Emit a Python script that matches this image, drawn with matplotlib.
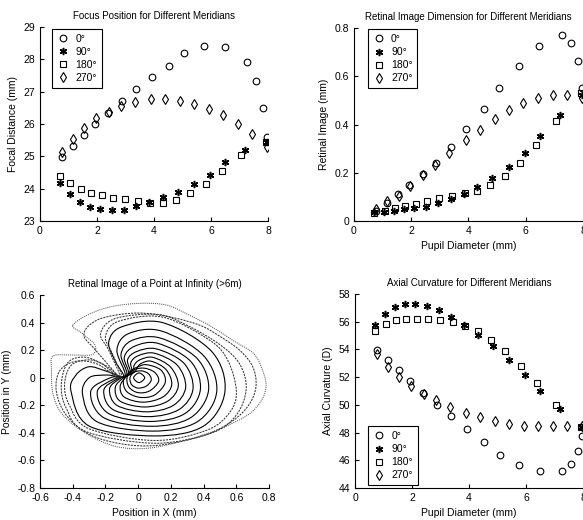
import numpy as np
import matplotlib
matplotlib.use('Agg')
from matplotlib import pyplot as plt
from matplotlib import font_manager
from matplotlib.path import Path
from matplotlib.patches import PathPatch

names = {f.name for f in font_manager.fontManager.ttflist}
fam = 'Liberation Sans Narrow' if 'Liberation Sans Narrow' in names else 'Liberation Sans'
plt.rcParams['font.family'] = [fam, 'DejaVu Sans']

# pupil diameters (mm) per meridian
x0 = [0.76, 1.15, 1.53, 1.94, 2.40, 2.88, 3.38, 3.93, 4.53, 5.07, 5.76, 6.48, 7.25, 7.58, 7.83, 7.97]
x90 = [0.71, 1.05, 1.39, 1.74, 2.11, 2.51, 2.95, 3.38, 3.83, 4.31, 4.84, 5.40, 5.96, 6.49, 7.19, 7.96]
x180 = [0.71, 1.07, 1.43, 1.79, 2.16, 2.57, 2.98, 3.43, 3.87, 4.30, 4.77, 5.26, 5.81, 6.37, 7.06, 7.94]
x270 = [0.77, 1.17, 1.56, 1.96, 2.41, 2.84, 3.32, 3.90, 4.40, 4.91, 5.41, 5.92, 6.43, 6.94, 7.45, 7.95]

# focal distance (mm)
focus0 = [24.99, 25.33, 25.66, 25.99, 26.35, 26.71, 27.07, 27.44, 27.81, 28.19, 28.42, 28.37, 27.93, 27.33, 26.51, 25.61]
focus90 = [24.19, 23.83, 23.58, 23.42, 23.36, 23.35, 23.35, 23.46, 23.59, 23.73, 23.90, 24.13, 24.42, 24.81, 25.19, 25.45]
focus180 = [24.40, 24.17, 23.98, 23.88, 23.81, 23.72, 23.67, 23.63, 23.55, 23.57, 23.66, 23.87, 24.13, 24.55, 25.03, 25.45]
focus270 = [25.14, 25.53, 25.89, 26.18, 26.38, 26.56, 26.69, 26.77, 26.77, 26.70, 26.61, 26.48, 26.28, 26.01, 25.68, 25.30]

# retinal image dimension (mm)
img0 = [0.043, 0.076, 0.110, 0.149, 0.193, 0.241, 0.308, 0.381, 0.463, 0.552, 0.643, 0.724, 0.771, 0.738, 0.662, 0.553]
img90 = [0.037, 0.037, 0.041, 0.050, 0.055, 0.059, 0.074, 0.091, 0.112, 0.142, 0.177, 0.225, 0.280, 0.352, 0.439, 0.524]
img180 = [0.032, 0.041, 0.052, 0.062, 0.070, 0.083, 0.094, 0.103, 0.117, 0.124, 0.149, 0.186, 0.239, 0.317, 0.415, 0.531]
img270 = [0.048, 0.084, 0.105, 0.145, 0.190, 0.234, 0.280, 0.335, 0.379, 0.423, 0.459, 0.490, 0.510, 0.524, 0.524, 0.510]

# axial curvature (D)
curv0 = [53.98, 53.26, 52.49, 51.75, 50.86, 50.01, 49.17, 48.26, 47.30, 46.41, 45.64, 45.20, 45.20, 45.76, 46.69, 47.78]
curv90 = [55.79, 56.56, 57.06, 57.30, 57.30, 57.11, 56.82, 56.34, 55.79, 55.07, 54.22, 53.26, 52.18, 51.02, 49.72, 48.40]
curv180 = [55.35, 55.83, 56.10, 56.22, 56.22, 56.22, 56.15, 55.98, 55.71, 55.35, 54.70, 53.91, 52.83, 51.58, 50.01, 48.40]
curv270 = [53.69, 52.73, 52.01, 51.34, 50.78, 50.33, 49.82, 49.41, 49.10, 48.86, 48.64, 48.50, 48.45, 48.45, 48.45, 48.45]

labels = ['0°', '90°', '180°', '270°']

# retinal image rings (x, y in mm)
solid_rings = [
    ([0.04, 0.005, -0.028, 0.005],
     [0.0, 0.035, 0.0, -0.035]),
    ([0.08, 0.062, 0.02, -0.025, -0.05, -0.04, 0.0, 0.05],
     [-0.015, 0.03, 0.05, 0.04, 0.0, -0.05, -0.075, -0.06]),
    ([0.125, 0.1, 0.035, -0.03, -0.068, -0.055, 0.0, 0.07],
     [-0.025, 0.04, 0.07, 0.055, 0.0, -0.07, -0.108, -0.095]),
    ([0.165, 0.14, 0.05, -0.01, -0.05, -0.09, -0.07, 0.01, 0.1],
     [-0.035, 0.055, 0.095, 0.075, 0.045, -0.02, -0.1, -0.142, -0.125]),
    ([-0.02, -0.07, -0.11, -0.085, 0.03, 0.15, 0.205, 0.17, 0.08, 0.02, -0.005],
     [0.045, 0.01, -0.06, -0.14, -0.177, -0.14, -0.05, 0.06, 0.12, 0.105, 0.075]),
    ([-0.03, -0.09, -0.14, -0.11, 0.04, 0.18, 0.245, 0.2, 0.09, 0.01, -0.025],
     [0.04, 0.0, -0.07, -0.17, -0.212, -0.17, -0.06, 0.075, 0.148, 0.13, 0.09]),
    ([-0.04, -0.11, -0.175, -0.13, 0.05, 0.215, 0.29, 0.24, 0.10, 0.0, -0.045],
     [0.035, -0.005, -0.08, -0.2, -0.247, -0.2, -0.07, 0.09, 0.178, 0.16, 0.11]),
    ([-0.05, -0.13, -0.21, -0.155, 0.06, 0.25, 0.335, 0.28, 0.11, -0.01, -0.065],
     [0.03, -0.01, -0.09, -0.23, -0.282, -0.23, -0.08, 0.105, 0.21, 0.19, 0.13]),
    ([-0.06, -0.15, -0.25, -0.18, 0.07, 0.285, 0.38, 0.32, 0.12, -0.02, -0.085],
     [0.025, -0.01, -0.1, -0.26, -0.317, -0.26, -0.085, 0.12, 0.25, 0.23, 0.15]),
    ([-0.07, -0.17, -0.29, -0.21, 0.08, 0.32, 0.43, 0.36, 0.13, -0.04, -0.105],
     [0.02, 0.0, -0.1, -0.29, -0.352, -0.29, -0.09, 0.14, 0.29, 0.27, 0.17]),
    ([-0.08, -0.19, -0.30, -0.34, -0.25, 0.09, 0.36, 0.48, 0.40, 0.14, -0.06, -0.13],
     [0.015, 0.02, 0.0, -0.12, -0.32, -0.387, -0.32, -0.1, 0.16, 0.34, 0.32, 0.2]),
    ([-0.09, -0.2, -0.3, -0.38, -0.41, -0.3, 0.1, 0.4, 0.53, 0.45, 0.15, -0.1, -0.18, -0.14],
     [0.01, 0.05, 0.08, 0.02, -0.1, -0.35, -0.422, -0.35, -0.1, 0.19, 0.4, 0.37, 0.26, 0.12]),
]

dashed_rings = [
    ([-0.1, -0.2, -0.3, -0.41, -0.45, -0.42, -0.3, 0.1, 0.42, 0.56, 0.6, 0.55, 0.44, 0.15, -0.12, -0.2, -0.16],
     [0.005, 0.09, 0.13, 0.09, -0.05, -0.2, -0.37, -0.455, -0.38, -0.25, -0.1, 0.12, 0.27, 0.44, 0.41, 0.3, 0.18]),
    ([-0.11, -0.22, -0.33, -0.43, -0.47, -0.44, -0.32, 0.1, 0.45, 0.6, 0.66, 0.62, 0.5, 0.3, 0.12, -0.14, -0.23, -0.18],
     [0.0, 0.1, 0.15, 0.11, -0.05, -0.22, -0.39, -0.475, -0.4, -0.27, -0.08, 0.1, 0.24, 0.38, 0.46, 0.43, 0.32, 0.2]),
    ([-0.12, -0.25, -0.38, -0.48, -0.5, -0.44, -0.3, -0.1, 0.12, 0.4, 0.58, 0.68, 0.72, 0.7, 0.62, 0.5, 0.38, 0.2, 0.0, -0.2, -0.3, -0.33, -0.26],
     [0.0, 0.1, 0.12, 0.05, -0.1, -0.27, -0.41, -0.48, -0.49, -0.42, -0.31, -0.19, -0.06, 0.08, 0.2, 0.3, 0.38, 0.44, 0.47, 0.44, 0.38, 0.3, 0.2]),
]

dotted_ring = (
    [-0.40, -0.31, -0.17, 0.01, 0.175, 0.32, 0.45, 0.58, 0.71, 0.77, 0.78, 0.75, 0.67, 0.5, 0.3, 0.07, -0.13, -0.31, -0.46, -0.52, -0.53, -0.52, -0.40, -0.29, -0.26, -0.27, -0.30, -0.35],
    [0.38, 0.455, 0.515, 0.54, 0.527, 0.45, 0.37, 0.27, 0.17, 0.02, -0.076, -0.17, -0.27, -0.37, -0.45, -0.51, -0.50, -0.41, -0.27, -0.12, 0.06, 0.158, 0.165, 0.165, 0.2, 0.25, 0.28, 0.33],
)


def ring_path(xs, ys):
    # closed smooth path through the read points (cubic Bezier segments)
    pts = np.column_stack([xs, ys])
    n = len(pts)
    verts = [pts[0]]
    codes = [Path.MOVETO]
    for i in range(n):
        p0, p1, p2, p3 = pts[i - 1], pts[i], pts[(i + 1) % n], pts[(i + 2) % n]
        verts += [p1 + (p2 - p0) / 6, p2 - (p3 - p1) / 6, p2]
        codes += [Path.CURVE4] * 3
    return Path(verts, codes)


fig = plt.figure(figsize=(5.83, 5.20), dpi=100)
ax1 = fig.add_axes([0.0686, 0.575, 0.391, 0.373])
ax2 = fig.add_axes([0.607, 0.575, 0.393, 0.371])
ax3 = fig.add_axes([0.0686, 0.0615, 0.393, 0.371])
ax4 = fig.add_axes([0.609, 0.0615, 0.391, 0.373])

fs = 7.5
tfs = 7.0
mk = dict(linestyle='none', color='black', markerfacecolor='none', markeredgewidth=0.8)
star = (6, 2, 0)


def style(ax):
    ax.spines['top'].set_visible(False)
    ax.spines['right'].set_visible(False)
    ax.tick_params(direction='in', length=3, labelsize=fs, width=0.8)
    for s in ['left', 'bottom']:
        ax.spines[s].set_linewidth(0.8)


def scatter4(ax, y0, y90, y180, y270):
    ax.plot(x0, y0, marker='o', ms=4.8, label=labels[0], **mk)
    ax.plot(x90, y90, marker=star, ms=5.2, label=labels[1], linestyle='none',
            color='black', markeredgewidth=1.1)
    ax.plot(x180, y180, marker='s', ms=4.6, label=labels[2], **mk)
    ax.plot(x270, y270, marker='d', ms=5.4, label=labels[3], **mk)


def legend(ax, loc, anchor):
    lg = ax.legend(loc=loc, bbox_to_anchor=anchor, borderaxespad=0, fontsize=fs,
                   fancybox=False, framealpha=1, edgecolor='black', handlelength=1.2,
                   handletextpad=0.6, labelspacing=0.3, borderpad=0.45)
    lg.get_frame().set_linewidth(0.8)


scatter4(ax1, focus0, focus90, focus180, focus270)
ax1.set_xlim(0, 8)
ax1.set_ylim(23, 29)
ax1.set_xticks([0, 2, 4, 6, 8])
ax1.set_title('Focus Position for Different Meridians', fontsize=tfs)
ax1.set_ylabel('Focal Distance (mm)', fontsize=fs)
style(ax1)
legend(ax1, 'upper left', (0.053, 0.99))

scatter4(ax2, img0, img90, img180, img270)
ax2.set_xlim(0, 8)
ax2.set_ylim(0, 0.8)
ax2.set_xticks([0, 2, 4, 6, 8])
ax2.set_yticks([0, 0.2, 0.4, 0.6, 0.8])
ax2.set_yticklabels(['0', '0.2', '0.4', '0.6', '0.8'])
ax2.set_title('Retinal Image Dimension for Different Meridians', fontsize=tfs)
ax2.set_ylabel('Retinal Image (mm)', fontsize=fs)
ax2.set_xlabel('Pupil Diameter (mm)', fontsize=fs)
style(ax2)
legend(ax2, 'upper left', (0.06, 0.993))

for rx, ry in solid_rings:
    ax3.add_patch(PathPatch(ring_path(rx, ry), fill=False, edgecolor='black', lw=0.8))
for rx, ry in dashed_rings:
    ax3.add_patch(PathPatch(ring_path(rx, ry), fill=False, edgecolor='#333333', lw=0.75,
                            linestyle=(0, (2, 1))))
ax3.add_patch(PathPatch(ring_path(*dotted_ring), fill=False, edgecolor='#555555', lw=0.75,
                        linestyle=(0, (1, 1))))
ax3.set_xlim(-0.6, 0.8)
ax3.set_ylim(-0.8, 0.6)
ax3.set_xticks(np.round(np.arange(-0.6, 0.81, 0.2), 1))
ax3.set_yticks(np.round(np.arange(-0.8, 0.61, 0.2), 1))
ax3.set_xticklabels(['-0.6', '-0.4', '-0.2', '0', '0.2', '0.4', '0.6', '0.8'])
ax3.set_yticklabels(['-0.8', '-0.6', '-0.4', '-0.2', '0', '0.2', '0.4', '0.6'])
ax3.set_title('Retinal Image of a Point at Infinity (>6m)', fontsize=tfs)
ax3.set_xlabel('Position in X (mm)', fontsize=fs)
ax3.set_ylabel('Position in Y (mm)', fontsize=fs)
style(ax3)

scatter4(ax4, curv0, curv90, curv180, curv270)
ax4.set_xlim(0, 8)
ax4.set_ylim(44, 58)
ax4.set_xticks([0, 2, 4, 6, 8])
ax4.set_yticks(range(44, 59, 2))
ax4.set_title('Axial Curvature for Different Meridians', fontsize=tfs)
ax4.set_ylabel('Axial Curvature (D)', fontsize=fs)
ax4.set_xlabel('Pupil Diameter (mm)', fontsize=fs)
style(ax4)
legend(ax4, 'lower left', (0.057, 0.015))

fig.savefig('out.png', dpi=100)
